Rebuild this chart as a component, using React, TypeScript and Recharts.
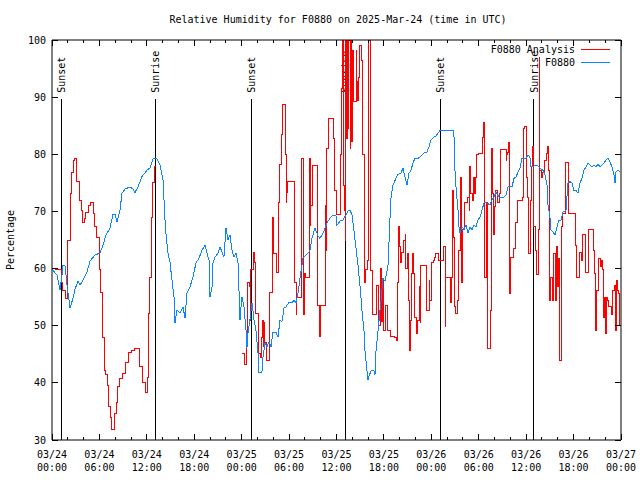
import { LineChart, Line, XAxis, YAxis, ReferenceLine } from "recharts";

const FONT = "'DejaVu Sans Mono', 'Liberation Mono', monospace";
const RED = "#ff0000";
const BLUE = "#0a84ff";

// time axis: hours since 03/24 00:00 UTC
const obsHours = [
  0, 0.38, 0.63, 1.01, 1.27, 1.39, 1.64, 1.9, 2.28, 2.66, 2.91, 3.29, 3.54, 3.92, 4.43, 4.81, 5.44, 6.07, 6.45, 6.83,
  7.34, 7.72, 7.97, 8.22, 8.6, 8.86, 9.24, 9.87, 10.25, 10.5, 10.88, 11.39, 12.02, 12.4, 12.78, 13.29, 13.67, 14.05,
  14.3, 14.43, 14.68, 14.93, 15.18, 15.44, 15.56, 15.82, 16.2, 16.58, 16.83, 17.08, 17.46, 17.84, 18.22, 18.6, 18.98,
  19.36, 19.61, 19.87, 19.99, 20.25, 20.37, 20.63, 21.0, 21.26, 21.51, 21.76, 22.02, 22.27, 22.52, 22.78, 23.03,
  23.28, 23.54, 23.79, 23.92, 24.04, 24.29, 24.55, 24.67, 24.8, 25.05, 25.31, 25.56, 25.81, 26.07, 26.19, 26.57,
  26.7, 26.95, 27.2, 27.46, 27.71, 27.96, 28.34, 28.6, 28.85, 29.1, 29.36, 29.61, 29.99, 30.37, 30.62, 30.87, 31.13,
  31.38, 31.76, 32.14, 32.39, 32.65, 32.9, 33.28, 33.66, 33.91, 34.16, 34.42, 34.8, 35.18, 35.56, 35.94, 36.06,
  36.44, 36.82, 37.2, 37.45, 37.71, 37.96, 38.21, 38.47, 38.72, 38.97, 39.23, 39.48, 39.61, 39.86, 39.99, 40.11,
  40.37, 40.74, 40.87, 41.0, 41.25, 41.5, 41.63, 41.88, 42.14, 42.39, 42.52, 42.77, 42.9, 43.15, 43.53, 43.78, 44.16,
  44.41, 44.67, 44.92, 45.17, 45.43, 45.68, 45.93, 46.31, 46.56, 46.82, 47.07, 47.45, 47.7, 47.96, 48.34, 48.59,
  48.84, 49.1, 50.74, 50.87, 51.0, 51.12, 51.38, 51.5, 51.63, 51.88, 52.13, 52.39, 52.64, 52.89, 53.14, 53.4, 53.65,
  53.9, 54.16, 54.41, 54.66, 55.04, 55.42, 55.67, 55.93, 56.18, 56.56, 57.19, 57.45, 57.7, 58.21, 58.46, 58.71,
  58.97, 59.22, 59.47, 59.98, 60.23, 60.48, 60.61, 61.12, 61.37, 61.75, 62.13, 62.38, 62.64, 62.76, 63.01, 63.14,
  63.39, 63.64, 63.9, 64.15, 64.4, 64.66, 65.04, 65.29, 65.54, 65.8, 66.05, 66.3, 66.56, 66.81, 67.06, 67.31, 67.57,
  67.82, 68.08, 68.33, 68.58, 68.84, 69.09, 69.34, 69.6, 69.85, 70.1, 70.36, 70.61, 70.86, 71.12, 71.24, 71.37,
  71.62, 71.87,
];
const obsValues = [
  60.1, 59.2, 58.9, 56.2, 58.9, 60.6, 60.6, 57.1, 53.1, 54.8, 56.4, 57.8, 57.1, 58.0, 59.4, 61.3, 62.4, 62.7, 64.1, 65.9,
  67.1, 69.5, 69.5, 68.2, 70.2, 73.2, 73.9, 74.3, 73.9, 73.3, 74.3, 76.1, 77.2, 77.6, 79.2, 79.2, 78.1, 75.5,
  68.5, 65.9, 62.7, 61.1, 58.0, 55.0, 50.5, 52.7, 52.2, 53.3, 51.3, 55.7, 56.8, 58.5, 61.0, 61.8, 63.2,
  64.1, 62.7, 61.5, 55.0, 56.8, 61.0, 62.0, 62.7, 63.8, 62.9, 62.0, 67.1, 65.0, 65.9, 63.2, 62.0,
  62.7, 61.0, 51.0, 53.3, 55.0, 53.3, 49.2, 46.1, 48.7, 51.0, 54.0, 51.0, 49.2, 45.2, 41.9, 41.9,
  44.5, 47.0, 46.3, 47.2, 46.3, 48.9, 48.9, 48.0, 51.0, 50.7, 53.1, 53.3, 54.1, 54.0, 54.5, 54.0, 55.7,
  58.3, 61.8, 62.4, 62.7, 63.2, 65.3, 67.1, 65.7, 65.3, 65.9, 66.6, 68.0, 68.8, 69.4, 69.2, 67.6,
  68.3, 68.5, 69.4, 70.1, 70.2, 69.4, 66.6, 63.6, 60.6, 57.1, 52.6, 49.1, 45.6, 42.1, 40.5, 41.2,
  42.1, 42.1, 41.4, 45.6, 49.1, 52.6, 54.3, 58.3, 57.8, 59.6, 60.6, 68.8, 72.4, 74.6, 75.8, 76.5, 76.7,
  77.6, 76.0, 74.6, 76.7, 77.2, 78.5, 79.3, 79.3, 79.5, 79.9, 80.2, 80.4, 81.3, 82.5, 83.0, 83.2,
  83.7, 84.2, 84.2, 83.0, 76.9, 74.3, 70.2, 67.3, 66.2, 67.3, 66.8, 67.6, 66.2, 67.3, 66.8, 67.6, 67.3,
  68.5, 69.0, 70.2, 71.5, 71.5, 71.1, 72.0, 72.5, 73.4, 72.5, 72.5, 72.9, 74.3, 74.3, 75.8, 76.0,
  76.9, 77.6, 79.3, 79.3, 79.9, 79.5, 77.8, 78.0, 78.1, 77.6, 77.2, 76.4, 74.6, 71.1, 69.0, 66.8,
  66.4, 65.9, 67.3, 68.5, 68.5, 69.9, 70.2, 75.0, 75.2, 75.0, 73.7, 73.7, 73.2, 75.0, 75.8, 77.2, 77.8,
  78.5, 78.1, 77.8, 78.1, 77.8, 78.3, 77.8, 78.1, 78.5, 79.0, 79.3, 78.6, 77.8, 76.4, 75.0, 76.9,
  77.2, 76.9,
];

// analysis series (null = no analysis available)
const anaHours = [
  0.38, 1.14, 1.39, 1.77, 1.9, 2.02, 2.28, 2.4, 2.53, 2.78, 2.91, 3.04, 3.16, 3.42, 3.67, 3.8, 4.05, 4.3, 4.56, 4.81,
  5.19, 5.44, 5.69, 5.95, 6.07, 6.2, 6.33, 6.45, 6.58, 6.83, 6.96, 7.09, 7.21, 7.34, 7.47, 7.97, 8.22, 8.35, 8.6,
  8.86, 9.24, 9.62, 10.0, 10.38, 11.01, 11.13, 11.39, 11.51, 11.77, 12.08, 12.15, 12.27, 12.4, 12.53, 12.65, 12.78,
  12.91, 13.16, 13.3,
  24.08, 24.42, 24.64, 24.76, 24.93, 25.09, 25.18, 25.56, 25.65, 25.73, 25.81, 26.11, 26.19, 26.41, 26.54, 26.66,
  26.74, 26.86, 26.95, 27.08, 27.5, 27.93, 28.03, 28.43, 28.64, 28.72, 28.85, 28.98, 29.14, 29.52, 29.65, 29.7,
  29.77, 30.66, 30.88, 31.0, 31.6, 31.8, 32.01, 32.14, 32.56, 32.65, 32.77, 32.99, 33.57, 33.82, 33.95, 34.55,
  34.67, 34.76, 34.96, 35.05, 35.6, 35.72, 36.03, 36.53, 36.66, 36.74, 36.86, 36.95, 37.08, 37.2, 37.29, 37.37,
  37.49, 37.58, 37.71, 37.8, 37.92, 38.05, 38.13, 38.47, 38.56, 38.63, 38.76, 38.84, 38.97, 39.19, 39.32, 39.48,
  39.65, 39.86, 40.03, 40.24, 40.33, 40.58, 41.0, 41.29, 41.51, 41.63, 41.72, 41.85, 41.92, 42.26, 42.43, 42.86,
  43.28, 43.62, 43.74, 43.82, 43.95, 44.13, 44.2, 44.45, 44.67, 44.79, 44.96, 45.09, 45.21, 45.39, 45.52, 45.64,
  45.72, 45.85, 46.15, 46.23, 46.48, 46.57, 46.69, 47.41, 47.74, 47.83, 47.96, 48.05, 48.25, 48.38, 48.59, 48.88,
  49.6, 49.73, 49.82, 50.45, 50.55, 50.7, 50.78, 50.87, 51.0, 51.29, 51.41, 51.5, 51.63, 51.72, 51.84, 51.92,
  52.17, 52.26, 52.55, 52.81, 52.89, 52.98, 53.24, 53.31, 53.44, 53.65, 53.74, 53.94, 54.5, 54.58, 54.67, 54.7,
  54.79, 54.92, 55.08, 55.51, 55.64, 55.77, 55.84, 55.97, 56.06, 56.35, 56.6, 56.69, 57.45, 57.54, 57.66, 57.74,
  57.87, 57.96, 58.46, 58.59, 58.71, 58.88, 59.56, 59.66, 59.85, 59.98, 60.07, 60.15, 60.27, 60.58, 60.7, 60.83,
  60.93, 60.99, 61.12, 61.25, 61.54, 61.66, 61.75, 61.88, 62.09, 62.26, 62.38, 62.51, 62.68, 62.8, 62.93, 63.11,
  63.36, 63.52, 63.65, 63.78, 63.94, 64.07, 64.19, 64.28, 64.41, 64.5, 64.66, 64.92, 65.04, 65.33, 66.18, 66.4,
  66.81, 66.94, 67.16, 67.57, 67.86, 68.5, 68.62, 68.71, 68.8, 68.88, 68.96, 69.13, 69.43, 69.56, 69.69, 69.76,
  69.89, 70.1, 70.19, 70.32, 70.48, 70.82, 70.95, 71.24, 71.33, 71.37, 71.5, 71.66, 71.75, 71.94,
];
const anaValues = [
  59.8, 57.6, 56.2, 54.8, 61.0, 65.0, 69.0, 73.2, 76.9, 79.0, 79.3, 78.5, 75.2, 72.0, 70.2, 68.0, 68.8, 69.9, 71.1, 71.5,
  69.7, 67.3, 65.5, 63.8, 59.8, 55.9, 52.2, 48.0, 42.2, 41.4, 39.6, 37.9, 35.8, 34.0, 31.8, 34.7, 36.5, 39.3, 40.8,
  41.7, 43.6, 45.4, 45.7, 46.1, 44.5, 42.8, 41.0, 40.1, 38.4, 41.0, 46.6, 52.2, 58.5, 65.0, 69.0, 75.0,
  77.8, 77.8, null,
  45.2, 43.3, 46.3, 57.5, 56.8, 51.0, 59.8, 62.9, 61.0, 59.2, 52.2, 50.5, 45.2, 44.5, 48.0, 51.0,
  46.3, 50.5, 47.0, 44.0, 55.9, 69.0, 62.7, 59.4, 65.0, 71.5, 78.3, 83.4, 88.8, 79.9, 71.5, 73.4,
  75.2, 57.6, 51.9, 55.0, 79.3, 51.9, 59.2, 58.5, 79.3, 67.6, 71.1, 78.1, 53.6, 48.2, 53.6, 71.1,
  63.1, 81.1, 85.5, 86.3, 82.8, 73.6, 69.4, 79.9, 91.6, 100, 74.6, 70.2, 65.0, 100, 82.8, 100,
  84.6, 100, 81.1, 100, 82.3, 98.1, 89.3, 98.1, 92.8, 89.5, 92.0, 93.4, 99.0, 96.5, 79.9, 57.5,
  59.8, 61.5, 100, 76.4, 59.6, 51.9, 57.1, 50.1, 54.3, 60.1, 50.8, 58.3, 49.1, 53.6, 49.1, 48.2,
  48.0, 47.5, 57.5, 67.3, 63.8, 61.0, 62.9, 65.0, 65.9, 60.1, 62.7, 54.5, 45.7, 51.0, 59.2, 62.7,
  59.2, 51.5, 48.7, 51.0, 56.8, 50.5, 60.6, 52.7, 58.0, 54.5, 58.5, 61.0, 61.5, 62.0, 62.7, 61.5,
  63.8, 49.8, 58.5, 54.1, 58.5, 73.7, 65.5, 53.3, 52.2, 54.5, 56.8, 63.2, 67.3, 76.0, 57.5, 66.8,
  68.5, 71.5, 72.5, 70.2, 77.8, 73.2, 72.0, 76.0, 73.2, 76.0, 79.9, 80.2, 83.0, 85.5, 81.3, 70.2,
  58.5, 71.5, 46.1, 52.7, 81.1, 73.2, 65.9, 70.8, 73.7, 71.5, 73.2, 80.9, 78.9, 80.0, 80.4, 82.0,
  55.7, 62.0, 63.6, 67.3, 68.0, 72.0, 72.5, 84.6, 84.8, 81.3, 76.0, 72.5, 62.7, 72.0, 77.8, 81.3,
  72.0, 67.3, 63.2, 58.9, 66.8, 97.0, 77.2, 76.0, 76.9, 78.5, 79.0, 80.2, 81.3, 77.2, 54.5, 58.5,
  54.5, 62.7, 54.5, 63.8, 56.8, 61.8, 54.5, 44.0, 63.8, 67.3, 69.7, 73.7, 78.5, 69.7, 64.1, 58.5,
  62.9, 61.5, 65.9, 59.4, 66.8, 63.2, 59.2, 56.2, 49.2, 51.5, 56.2, 61.8, 60.3, 61.5, 59.8, 51.5,
  55.0, 48.7, 55.0, 54.5, 53.3, 51.9, 56.2, 57.1, 49.2, 58.0, 56.2, 55.7, 50.1, 50.1,
];

const sunHours = [1.18, 13.07, 25.22, 37.11, 49.13, 60.99];
const sunLabels = ["Sunset", "Sunrise", "Sunset", "Sunrise", "Sunset", "Sunrise"];
const SUN_LINE_TOP = 89.7;

const tickHours = [
  0, 2, 4, 6, 8, 10, 12, 14, 16, 18, 20, 22, 24, 26, 28, 30, 32, 34, 36, 38, 40, 42, 44, 46, 48, 50, 52, 54, 56, 58,
  60, 62, 64, 66, 68, 70, 72,
];
const labelHours = [0, 6, 12, 18, 24, 30, 36, 42, 48, 54, 60, 66, 72];
const labelDates = ["03/24", "03/24", "03/24", "03/24", "03/25", "03/25", "03/25", "03/25", "03/26", "03/26", "03/26", "03/26", "03/27"];
const labelTimes = ["00:00", "06:00", "12:00", "18:00", "00:00", "06:00", "12:00", "18:00", "00:00", "06:00", "12:00", "18:00", "00:00"];
const yTicks = [30, 40, 50, 60, 70, 80, 90, 100];

const seriesNames = ["F0880 Analysis", "F0880"];
const seriesColors = [RED, BLUE];

const obsData = obsHours.map((h, i) => ({ h, v: obsValues[i] }));
const anaData = anaHours.map((h, i) => ({ h, v: anaValues[i] }));

const txt = { fontFamily: FONT, fontSize: 10, fill: "#000" };

function BottomTick({ x, y, payload }: any) {
  const i = labelHours.indexOf(payload.value);
  const len = i >= 0 ? 6 : 3;
  return (
    <g>
      <line x1={x} y1={y} x2={x} y2={y - len} stroke="#000" shapeRendering="crispEdges" />
      {i >= 0 && (
        <text x={x} y={y + 18} textAnchor="middle" {...txt}>
          {labelDates[i]}
        </text>
      )}
      {i >= 0 && (
        <text x={x} y={y + 31} textAnchor="middle" {...txt}>
          {labelTimes[i]}
        </text>
      )}
    </g>
  );
}

function TopTick({ x, y, payload }: any) {
  const len = labelHours.includes(payload.value) ? 6 : 3;
  return <line x1={x} y1={y} x2={x} y2={y + len} stroke="#000" shapeRendering="crispEdges" />;
}

function LeftTick({ x, y, payload }: any) {
  return (
    <g>
      <line x1={x} y1={y} x2={x + 6} y2={y} stroke="#000" shapeRendering="crispEdges" />
      <text x={x - 6} y={y + 3.6} textAnchor="end" {...txt}>
        {payload.value}
      </text>
    </g>
  );
}

function RightTick({ x, y }: any) {
  return <line x1={x} y1={y} x2={x - 6} y2={y} stroke="#000" shapeRendering="crispEdges" />;
}

const sunLabel = (text: string) => (props: any) => {
  const vb = props.viewBox || {};
  return (
    <text transform={`translate(${vb.x + 4},${vb.y - 6}) rotate(-90)`} textAnchor="start" {...txt}>
      {text}
    </text>
  );
};

export default function App() {
  return (
    <div style={{ position: "absolute", left: 0, top: 0, width: 640, height: 480, background: "#fff" }}>
      <LineChart width={640} height={480} margin={{ top: 30, right: 9, bottom: 10, left: 8 }}>
        <XAxis
          dataKey="h"
          type="number"
          domain={[0, 72]}
          ticks={tickHours}
          interval={0}
          allowDataOverflow
          height={30}
          tickSize={0}
          tickMargin={0}
          tick={<BottomTick />}
          axisLine={{ stroke: "#000" }}
          tickLine={false}
        />
        <XAxis
          xAxisId="t"
          orientation="top"
          dataKey="h"
          type="number"
          domain={[0, 72]}
          ticks={tickHours}
          interval={0}
          allowDataOverflow
          height={10}
          tickSize={0}
          tickMargin={0}
          tick={<TopTick />}
          axisLine={{ stroke: "#000" }}
          tickLine={false}
        />
        <YAxis
          type="number"
          domain={[30, 100]}
          ticks={yTicks}
          interval={0}
          allowDataOverflow
          width={44}
          tickSize={0}
          tickMargin={0}
          tick={<LeftTick />}
          axisLine={{ stroke: "#000" }}
          tickLine={false}
        />
        <YAxis
          yAxisId="r"
          orientation="right"
          type="number"
          domain={[30, 100]}
          ticks={yTicks}
          interval={0}
          allowDataOverflow
          width={10}
          tickSize={0}
          tickMargin={0}
          tick={<RightTick />}
          axisLine={{ stroke: "#000" }}
          tickLine={false}
        />
        {sunHours.map((h, i) => (
          <ReferenceLine
            key={i}
            segment={[
              { x: h, y: 30 },
              { x: h, y: SUN_LINE_TOP },
            ]}
            stroke="#000"
            strokeWidth={1}
            shapeRendering="crispEdges"
            label={sunLabel(sunLabels[i])}
          />
        ))}
        <Line
          data={anaData}
          dataKey="v"
          type="stepAfter"
          stroke={RED}
          strokeWidth={1}
          dot={false}
          activeDot={false}
          connectNulls={false}
          isAnimationActive={false}
          shapeRendering="crispEdges"
        />
        <Line
          data={obsData}
          dataKey="v"
          type="linear"
          stroke={BLUE}
          strokeWidth={1}
          dot={false}
          activeDot={false}
          isAnimationActive={false}
          shapeRendering="crispEdges"
        />
      </LineChart>
      <svg width={640} height={480} style={{ position: "absolute", left: 0, top: 0, pointerEvents: "none" }}>
        <text x={338} y={22.6} textAnchor="middle" {...txt}>
          Relative Humidity for F0880 on 2025-Mar-24 (time in UTC)
        </text>
        <text transform="translate(14,240) rotate(-90)" textAnchor="middle" {...txt}>
          Percentage
        </text>
        {seriesNames.map((name, i) => (
          <g key={name}>
            <text x={575} y={52.6 + i * 13} textAnchor="end" {...txt}>
              {name}
            </text>
            <line
              x1={581}
              x2={610}
              y1={49.5 + i * 13}
              y2={49.5 + i * 13}
              stroke={seriesColors[i]}
              shapeRendering="crispEdges"
            />
          </g>
        ))}
      </svg>
    </div>
  );
}
